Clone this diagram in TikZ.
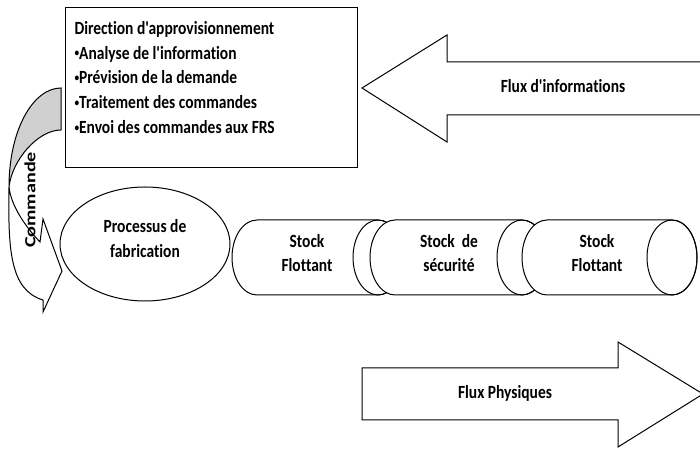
\documentclass[tikz,border=0pt]{standalone}
\usepackage{fontspec}
\usepackage{graphicx}
\usetikzlibrary{shapes.geometric}
\newfontfamily\calfont{Carlito}[Ligatures=NoCommon]
\definecolor{cmdgray}{RGB}{208,208,208}
\newcommand{\vtxt}[2][c]{\scalebox{1}[1.2]{\fontsize{15.5}{20.8}\selectfont\calfont\bfseries\begin{tabular}{@{}#1@{}}#2\end{tabular}}}
\newcommand{\htxt}[1]{\scalebox{1.3}[1]{\fontsize{15.5}{20.8}\selectfont\calfont\bfseries #1}}
\newcommand{\bul}{\raisebox{0.12em}{\scalebox{0.6}{•}}}
\begin{document}
\begin{tikzpicture}[x=1pt,y=1pt,line width=1pt,line join=miter,
  outl/.style={draw=black,fill=white},
  lbl/.style={inner sep=0pt}]
\useasboundingbox (0,0) rectangle (700,449);
% information box
\node (box) [outl, minimum width=292pt, minimum height=160pt, inner sep=0pt] at (211,361) {};
\node (boxtext) [lbl, anchor=west] at (74,370) {\vtxt[l]{Direction d'approvisionnement\\\bul Analyse de l'information\\\bul Prévision de la demande\\\bul Traitement des commandes\\\bul Envoi des commandes aux FRS}};
% information flow arrow
\draw[outl] (362,361) -- (447,414) -- (447,387) -- (705,387) -- (705,334) -- (447,334) -- (447,307) -- cycle;
\node (info) [lbl] at (563,361) {\vtxt{Flux d'informations}};
% curved command arrow
\draw[draw=black,fill=cmdgray] (61,361) .. controls (33,361) and (9,319) .. (9,262) .. controls (12,289) and (38,319) .. (61,319) -- cycle;
\draw[outl] (9,262) .. controls (8,199) and (10,159) .. (43,149) -- (43,137) -- (62,178) -- (43,230) -- (40,207) .. controls (24,224) and (11,244) .. (9,262) -- cycle;
\node (cmd) [lbl, rotate=90] at (30,249) {\htxt{Commande}};
% manufacturing process
\node (proc) [outl, ellipse, minimum width=170pt, minimum height=114pt, inner sep=0pt] at (145,205) {};
\node (proct) [lbl] at (145,209) {\vtxt{Processus de\\fabrication}};
% cylinders
\foreach \xl/\xr in {257/378, 395/522, 547/672}{
  \draw[outl] (\xr,229) -- (\xl,229) arc[start angle=90,end angle=270,x radius=25,y radius=37.5]
    -- (\xr,154) arc[start angle=-90,end angle=90,x radius=25,y radius=37.5] -- cycle;
  \draw (\xr,191.5) ellipse[x radius=25,y radius=37.5];
}
\node (s1) [lbl] at (307,194.5) {\vtxt{Stock\\Flottant}};
\node (s2) [lbl] at (449,194.5) {\vtxt{Stock~ de\\sécurité}};
\node (s3) [lbl] at (597,194.5) {\vtxt{Stock\\Flottant}};
% physical flow arrow
\draw[outl] (362,81) -- (618,81) -- (618,107) -- (703,55) -- (618,2) -- (618,29) -- (362,29) -- cycle;
\node (phys) [lbl] at (505,55) {\vtxt{Flux Physiques}};
\end{tikzpicture}
\end{document}
